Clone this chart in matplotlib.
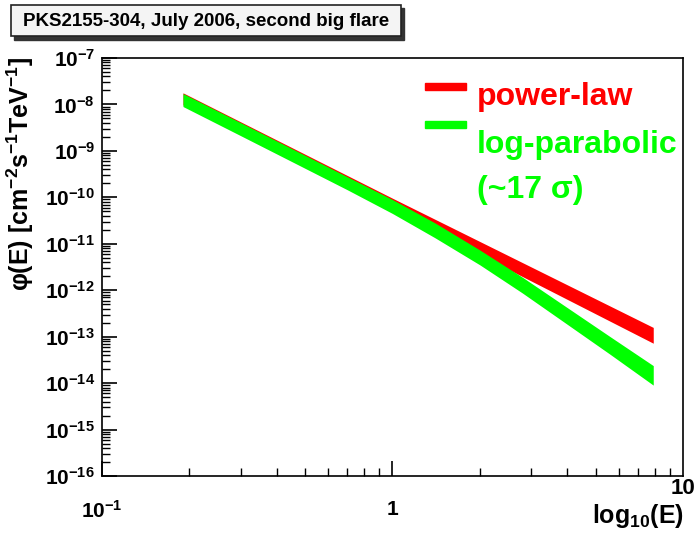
import matplotlib

matplotlib.use("Agg")

import matplotlib.pyplot as plt
from matplotlib.patches import Rectangle
from matplotlib.ticker import LogLocator, NullFormatter
import numpy as np

plt.rcParams["font.family"] = ["Liberation Sans", "DejaVu Sans"]
plt.rcParams["font.weight"] = "bold"
plt.rcParams["mathtext.fontset"] = "custom"
plt.rcParams["mathtext.rm"] = "Liberation Sans:bold"
plt.rcParams["mathtext.it"] = "Liberation Sans:bold"
plt.rcParams["mathtext.bf"] = "Liberation Sans:bold"
plt.rcParams["mathtext.default"] = "bf"

TITLE = "PKS2155-304, July 2006, second big flare"

# energies in TeV where the fitted spectra are sampled
energy_pl = [0.19, 1.0, 7.9]
flux_pl = [1.32e-8, 7.1e-11, 1.07e-13]
halfwidth_pl = [0.13, 0.13, 0.17]  # band half-width in decades

energy_lp = [0.19, 0.3, 0.5, 0.7, 1.0, 1.4, 2.0, 2.8, 4.0, 5.6, 7.9]
flux_lp = [1.245e-8, 2.94e-9, 5.82e-10, 2.0e-10, 6.34e-11, 1.95e-11,
           5.07e-12, 1.29e-12, 2.78e-13, 6.53e-14, 1.47e-14]
halfwidth_lp = [0.14, 0.14, 0.14, 0.14, 0.15, 0.16, 0.16, 0.17, 0.18, 0.19, 0.21]

y_ticks = [1e-7, 1e-8, 1e-9, 1e-10, 1e-11, 1e-12, 1e-13, 1e-14, 1e-15, 1e-16]
y_ticklabels = ["$10^{%d}$" % round(np.log10(v)) for v in y_ticks]


def band(energy, flux, halfwidth):
    # interpolate in log-log space so the bands stay smooth between samples
    log_e = np.log10(energy)
    grid = np.linspace(log_e[0], log_e[-1], 300)
    center = np.interp(grid, log_e, np.log10(flux))
    width = np.interp(grid, log_e, halfwidth)
    return 10 ** grid, 10 ** (center - width), 10 ** (center + width)


fig = plt.figure(figsize=(7.0, 5.36), dpi=100)
ax = fig.add_axes([0.1457, 0.1119, 0.83, 0.7799])

e, lo, hi = band(energy_pl, flux_pl, halfwidth_pl)
ax.fill_between(e, lo, hi, color="#ff0000", linewidth=0)
e, lo, hi = band(energy_lp, flux_lp, halfwidth_lp)
ax.fill_between(e, lo, hi, color="#00ff00", linewidth=0)

ax.set_xscale("log")
ax.set_yscale("log")
ax.set_xlim(0.1, 10)
ax.set_ylim(1e-16, 1e-7)

ax.set_yticks(y_ticks)
ax.set_yticklabels(y_ticklabels, fontsize=15)
ax.yaxis.set_minor_locator(LogLocator(base=10, subs=np.arange(2, 10), numticks=30))
ax.yaxis.set_minor_formatter(NullFormatter())
ax.set_xticks([0.1, 1])
ax.set_xticklabels(["$10^{-1}$", "1"], fontsize=15)
ax.tick_params(which="major", direction="in", length=11, width=1.2)
ax.tick_params(which="minor", direction="in", length=6, width=1.0)
ax.tick_params(axis="y", pad=5)
ax.tick_params(axis="x", pad=17)
ax.tick_params(top=False, right=False, which="both")
for spine in ax.spines.values():
    spine.set_linewidth(1.2)

fig.text(683 / 700, 1 - 488 / 536, "10", fontsize=16, ha="center", va="center")
fig.text(684 / 700, 1 - 516 / 536, "log$_{10}$(E)", fontsize=18, ha="right", va="center")
fig.text(20 / 700, 1 - 57 / 536, "\u03c6(E) [cm$^{-2}$s$^{-1}$TeV$^{-1}$]",
         fontsize=18, rotation=90, ha="center", va="top")

# legend drawn by hand
legend_rows = [("power-law", "#ff0000", 86.5, 105), ("log-parabolic", "#00ff00", 124.5, 153)]
for label, color, bar_y, text_y in legend_rows:
    fig.patches.append(Rectangle((425 / 700, 1 - (bar_y + 3.5) / 536), 41 / 700, 7 / 536,
                                 transform=fig.transFigure, color=color))
    fig.text(477 / 700, 1 - text_y / 536, label, color=color, fontsize=23, va="baseline")
fig.text(477 / 700, 1 - 198 / 536, "(~17 \u03c3)", color="#00ff00", fontsize=23, va="baseline")

# title box with drop shadow
fig.patches.append(Rectangle((14 / 700, 1 - 40 / 536), 390 / 700, 32 / 536,
                             transform=fig.transFigure, color="#333333", zorder=1))
fig.patches.append(Rectangle((11 / 700, 1 - 36 / 536), 390 / 700, 31 / 536,
                             transform=fig.transFigure, facecolor="#f4f4f4",
                             edgecolor="#222222", linewidth=1.2, zorder=2))
fig.text(206 / 700, 1 - 21 / 536, TITLE, fontsize=13.5, ha="center", va="center", zorder=3)

fig.savefig("out.png", dpi=100)
